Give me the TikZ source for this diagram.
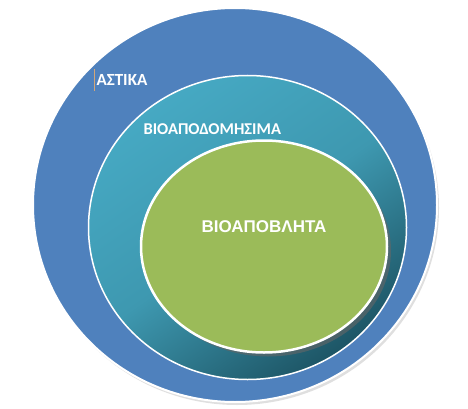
\documentclass[tikz,border=0pt]{standalone}
\usepackage{fontspec}
\setmainfont{Carlito}
\newfontfamily\arialb{Liberation Sans}
\usepackage{tikz}
\usetikzlibrary{shadows, positioning, calc, shapes, shapes.geometric, fit}
\definecolor{outerblue}{HTML}{4F81BD}
\definecolor{teallight}{HTML}{46A9C3}
\definecolor{tealdark}{HTML}{1D5565}
\definecolor{leafgreen}{HTML}{9BBB59}

\begin{document}
\begin{tikzpicture}[x=1pt,y=-1pt]
\useasboundingbox (0,0) rectangle (468,409);
\node[ellipse,draw=white,line width=2pt,fill=outerblue,inner sep=0pt,minimum width=404pt,minimum height=394pt,
      drop shadow={shadow xshift=2pt,shadow yshift=-3pt,fill=black!25}] (astika) at (235,205) {};
\node[ellipse,draw=white,line width=1.5pt,inner sep=0pt,minimum width=318pt,minimum height=304pt,
      left color=teallight,right color=tealdark,middle color=teallight!80!tealdark,shading angle=35] (bioapodom) at (247.5,227.5) {};
\node[ellipse,draw=white,line width=2.5pt,fill=leafgreen,inner sep=0pt,minimum width=246pt,minimum height=212pt,
      drop shadow={shadow xshift=4pt,shadow yshift=-4pt,fill=black!60,opacity=0.6}] (bioapobl) at (264,246.5) {};
\node[text=white,font=\bfseries\fontsize{17}{19}\selectfont,anchor=west] (l1) at (93,80) {ΑΣΤΙΚΑ};
\node[text=white,font=\bfseries\fontsize{16.5}{19}\selectfont,anchor=west] (l2) at (140,129) {ΒΙΟΑΠΟΔΟΜΗΣΙΜΑ};
\node[text=white,font=\arialb\bfseries\fontsize{17}{19}\selectfont] (l3) at (264,227) {ΒΙΟΑΠΟΒΛΗΤΑ};
\draw[brown!70,line width=0.8pt] ($(l1.west)+(1,-11)$) -- ($(l1.west)+(1,11)$);
\end{tikzpicture}
\end{document}
